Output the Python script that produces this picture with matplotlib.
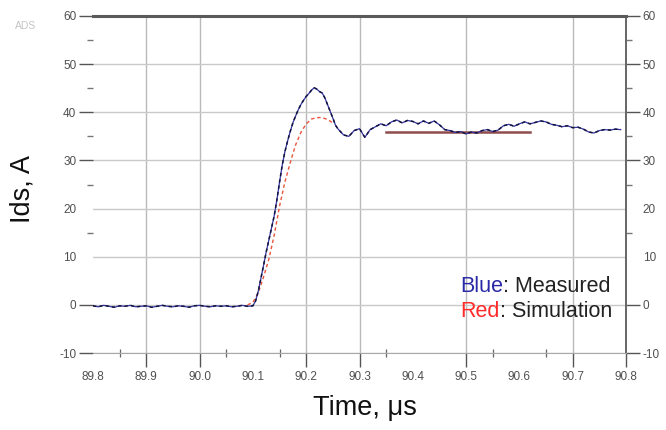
import matplotlib

matplotlib.use("agg")
import matplotlib.pyplot as plt

plt.rcParams.update({
    "font.family": ["Liberation Sans", "DejaVu Sans"],
    "font.size": 8.5,
})

# measured drain current (A) vs time (us)
meas_t = [89.80, 89.81, 89.82, 89.83, 89.84, 89.85, 89.86, 89.87, 89.88, 89.89,
          89.90, 89.91, 89.92, 89.93, 89.94, 89.95, 89.96, 89.97, 89.98, 89.99,
          90.00, 90.01, 90.02, 90.03, 90.04, 90.05, 90.06, 90.07, 90.08, 90.09,
          90.100, 90.105, 90.110, 90.115, 90.120, 90.125, 90.130, 90.135, 90.140,
          90.145, 90.150, 90.155, 90.160, 90.165, 90.170, 90.175, 90.180, 90.185,
          90.190, 90.195, 90.200, 90.205, 90.210, 90.215, 90.220, 90.225, 90.230,
          90.235, 90.240, 90.245, 90.250, 90.255,
          90.26, 90.27, 90.28, 90.29, 90.30, 90.31, 90.32, 90.33, 90.34, 90.35,
          90.36, 90.37, 90.38, 90.39, 90.40, 90.41, 90.42, 90.43, 90.44, 90.45,
          90.46, 90.47, 90.48, 90.49, 90.50, 90.51, 90.52, 90.53, 90.54, 90.55,
          90.56, 90.57, 90.58, 90.59, 90.60, 90.61, 90.62, 90.63, 90.64, 90.65,
          90.66, 90.67, 90.68, 90.69, 90.70, 90.71, 90.72, 90.73, 90.74, 90.75,
          90.76, 90.77, 90.78, 90.79]
meas_i = [-0.2, -0.4, -0.1, -0.3, -0.5, -0.2, -0.3, -0.1, -0.4, -0.3,
          -0.2, -0.5, -0.3, -0.1, -0.3, -0.4, -0.2, -0.3, -0.5, -0.2,
          -0.1, -0.3, -0.4, -0.2, -0.3, -0.2, -0.4, -0.3, -0.1, -0.3,
          -0.2, 0.8, 2.8, 5.5, 8.2, 11.0, 13.5, 16.0, 18.5,
          21.8, 25.5, 29.0, 31.8, 34.0, 36.0, 37.8, 39.2, 40.5,
          41.6, 42.5, 43.3, 43.9, 44.6, 45.1, 44.8, 44.3, 44.0,
          43.0, 41.6, 40.2, 38.8, 37.3,
          36.5, 35.3, 35.0, 36.2, 36.6, 34.8, 36.4, 37.0, 37.6, 37.2,
          38.0, 38.4, 37.8, 38.3, 38.1, 37.6, 38.2, 37.7, 38.2, 37.4,
          36.4, 36.2, 35.8, 36.0, 35.5, 35.9, 35.7, 36.2, 36.4, 36.0,
          36.3, 37.2, 37.5, 37.1, 37.6, 38.0, 37.6, 37.9, 38.2, 38.0,
          37.5, 37.3, 37.0, 37.2, 36.8, 36.9, 36.5, 35.9, 35.7, 36.2,
          36.4, 36.3, 36.5, 36.4]

# simulated switching transient
sim_t = [90.09, 90.10, 90.11, 90.12, 90.13, 90.14, 90.15, 90.16, 90.17, 90.18,
         90.19, 90.20, 90.21, 90.22, 90.23, 90.24, 90.25]
sim_i = [0.0, 0.5, 2.5, 5.8, 9.5, 14.5, 20.5, 25.5, 29.5, 33.2,
         35.8, 37.6, 38.6, 38.9, 38.9, 38.5, 37.8]

# simulated steady-state level
sim_flat_t = [90.35, 90.62]
sim_flat_i = [36.0, 36.0]

x_labels = [89.8, 89.9, 90.0, 90.1, 90.2, 90.3, 90.4, 90.5, 90.6, 90.7, 90.8]
x_bare = [89.8, 90.1, 90.4, 90.6]          # labelled, but no tick mark / grid
x_minor = [89.85, 90.05, 90.15, 90.35, 90.55, 90.65]
y_labels = [-10, 0, 10, 20, 30, 40, 50, 60]
y_bare = [10, 20]
y_minor = [15, 25, 35, 45, 55]

fig = plt.figure(figsize=(6.66, 4.30), dpi=100)
ax = fig.add_axes([93 / 666, 77 / 430, 533 / 666, 337 / 430])

ax.plot(meas_t, meas_i, color="#3434a6", lw=0.9, zorder=3)
ax.plot(meas_t, meas_i, color="#15153a", lw=1.1, ls=(0, (2.2, 2.0)), zorder=4)
ax.plot(sim_t, sim_i, color="#e8553a", lw=1.0, ls=(0, (2.5, 2.0)), zorder=2)
ax.plot(sim_flat_t, sim_flat_i, color="#8e4c4c", lw=1.8, zorder=2)

ax.set_xlim(89.8, 90.8)
ax.set_ylim(-10, 60)

ax.set_xticks(x_labels)
ax.set_xticklabels([f"{v:.1f}" for v in x_labels])
ax.set_xticks(x_minor, minor=True)
ax.set_yticks(y_labels)
ax.set_yticklabels([str(v) for v in y_labels])
ax.set_yticks(y_minor, minor=True)

ax.tick_params(axis="x", which="major", direction="out", length=10, width=1.0,
               color="#555555", labelcolor="#505050", pad=3)
ax.tick_params(axis="x", which="minor", direction="inout", length=6, width=0.9,
               color="#666666")
ax.tick_params(axis="y", which="major", direction="out", length=10, width=1.0,
               color="#555555", labelcolor="#505050", pad=2,
               left=True, right=True, labelleft=True, labelright=True)
ax.tick_params(axis="y", which="minor", direction="out", length=4, width=1.0,
               color="#777777", left=True, right=True)

ax.grid(True, which="major", color="#c9c9c9", lw=1.0)
ax.set_axisbelow(True)

for tick, v in zip(ax.xaxis.get_major_ticks(), x_labels):
    if v in x_bare:
        tick.tick1line.set_visible(False)
        tick.gridline.set_visible(False)
    else:
        tick.gridline.set_color("#b9b9b9")
for tick, v in zip(ax.yaxis.get_major_ticks(), y_labels):
    if v in y_bare:
        tick.tick1line.set_visible(False)
        tick.tick2line.set_visible(False)

ax.spines["left"].set_visible(False)
ax.spines["bottom"].set_color("#a8a8a8")
ax.spines["top"].set_color("#5a5a5a")
ax.spines["top"].set_linewidth(2.2)
ax.spines["right"].set_color("#666666")
ax.spines["right"].set_linewidth(1.4)

fig.text(0.548, 0.051, "Time, \u03bcs", ha="center", va="center", fontsize=19.5,
         color="#111111")
fig.text(0.034, 0.56, "Ids, A", ha="center", va="center", rotation=90,
         fontsize=19.5, color="#111111")
fig.text(0.038, 0.94, "ADS", ha="center", va="center", fontsize=7.5,
         color="#c4c4c4")

# colour-keyed note inside the plot
t1 = ax.text(0.689, 0.196, "Blue", transform=ax.transAxes, fontsize=15.5,
             color="#2a2aa8", va="center", ha="left")
ax.annotate(": Measured", xy=(1, 0.5), xycoords=t1, fontsize=15.5,
            color="#222222", va="center", ha="left")
t2 = ax.text(0.689, 0.122, "Red", transform=ax.transAxes, fontsize=15.5,
             color="#ff2a2a", va="center", ha="left")
ax.annotate(": Simulation", xy=(1, 0.5), xycoords=t2, fontsize=15.5,
            color="#222222", va="center", ha="left")

fig.savefig("out.png", dpi=100)
